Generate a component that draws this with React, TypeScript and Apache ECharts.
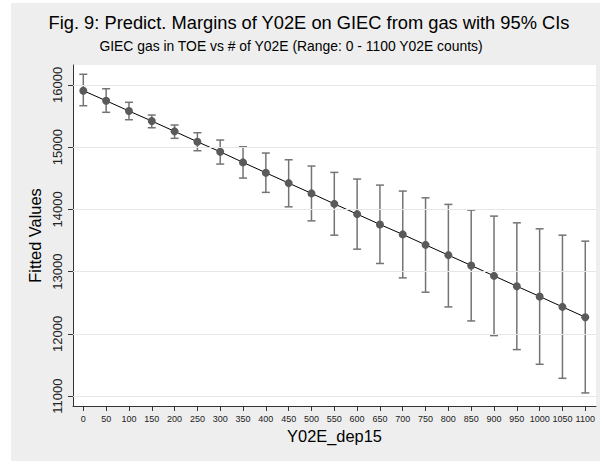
import React, { useEffect, useRef } from "react";
import * as echarts from "echarts";

const xValues = [0, 50, 100, 150, 200, 250, 300, 350, 400, 450, 500, 550, 600, 650, 700, 750, 800, 850, 900, 950, 1000, 1050, 1100];
const fitted = [15905, 15744, 15579, 15418, 15252, 15085, 14924, 14754, 14587, 14421, 14256, 14088, 13923, 13757, 13597, 13429, 13264, 13098, 12931, 12765, 12600, 12433, 12267];
const upperCI = [16169, 15937, 15719, 15514, 15354, 15230, 15113, 15005, 14904, 14796, 14695, 14593, 14486, 14389, 14293, 14185, 14079, 13987, 13891, 13783, 13687, 13585, 13489];
const lowerCI = [15664, 15558, 15439, 15310, 15140, 14941, 14727, 14502, 14272, 14040, 13815, 13585, 13360, 13130, 12899, 12669, 12432, 12207, 11972, 11747, 11511, 11286, 11051];
const yTicks = [11000, 12000, 13000, 14000, 15000, 16000];
const xTicks = xValues;

const titleText = "Fig. 9: Predict. Margins of Y02E on GIEC from gas with 95% CIs";
const subtitleText = "GIEC gas in TOE vs # of Y02E (Range: 0 - 1100 Y02E counts)";

const FONT = "'Liberation Sans', Arial, Helvetica, sans-serif";

export default function App() {
  const ref = useRef<HTMLDivElement>(null);
  useEffect(() => {
    if (!ref.current) return;
    const chart = echarts.init(ref.current, null, { renderer: "svg" });
    const errData = xValues.map((x, i) => [x, lowerCI[i], upperCI[i]]);
    chart.setOption({
      animation: false,
      backgroundColor: "#ffffff",
      textStyle: { fontFamily: FONT },
      graphic: [
        {
          type: "rect",
          shape: { x: 11, y: 3, width: 589, height: 458 },
          style: { fill: "#eeeeee" },
          z: -10,
          silent: true,
        },
        {
          type: "text",
          x: 309,
          y: 22,
          style: { text: titleText, fontSize: 18.3, fontFamily: FONT, fill: "#000", align: "center", verticalAlign: "middle" },
        },
        {
          type: "text",
          x: 291,
          y: 46,
          style: { text: subtitleText, fontSize: 13.9, fontFamily: FONT, fill: "#000", align: "center", verticalAlign: "middle" },
        },
      ],
      grid: {
        left: 73,
        top: 65,
        right: 4,
        bottom: 55,
        show: true,
        backgroundColor: "#ffffff",
        borderWidth: 0,
      },
      xAxis: {
        type: "value",
        min: -22.6,
        max: 1123.5,
        name: "Y02E_dep15",
        nameLocation: "middle",
        nameGap: 21,
        nameTextStyle: { fontSize: 16.4, color: "#000", fontFamily: FONT },
        axisLine: { show: true, onZero: false, lineStyle: { color: "#333", width: 1 } },
        axisTick: { show: true, length: 5, customValues: xTicks, lineStyle: { color: "#333" } },
        axisLabel: {
          customValues: xTicks,
          fontSize: 9,
          color: "#222",
          margin: 8,
          fontFamily: FONT,
          hideOverlap: false,
          showMinLabel: true,
          showMaxLabel: true,
          formatter: (v: number) => String(v),
        },
        splitLine: { show: false },
      },
      yAxis: {
        type: "value",
        min: 10841,
        max: 16318,
        name: "Fitted Values",
        nameLocation: "middle",
        nameRotate: 90,
        nameGap: 27,
        nameTextStyle: { fontSize: 16.4, color: "#000", fontFamily: FONT },
        axisLine: { show: true, onZero: false, lineStyle: { color: "#333", width: 1 } },
        axisTick: { show: true, length: 5, customValues: yTicks, lineStyle: { color: "#333" } },
        axisLabel: {
          customValues: yTicks,
          fontSize: 13,
          color: "#222",
          rotate: 90,
          margin: 9,
          fontFamily: FONT,
          formatter: (v: number) => String(v),
        },
        splitLine: { show: false },
      },
      series: [
        {
          type: "line",
          data: [],
          z: 1,
          silent: true,
          markLine: {
            silent: true,
            symbol: "none",
            label: { show: false },
            lineStyle: { color: "#e6e6e6", width: 1.2, type: "solid" },
            data: yTicks.map((v) => ({ yAxis: v })),
          },
        },
        {
          type: "custom",
          z: 2,
          silent: true,
          data: errData,
          renderItem: (params: any, api: any) => {
            const x = api.value(0);
            const lo = api.coord([x, api.value(1)]);
            const hi = api.coord([x, api.value(2)]);
            const cap = 4;
            const st = { stroke: "#747474", lineWidth: 1.5 };
            return {
              type: "group",
              children: [
                { type: "line", shape: { x1: hi[0], y1: hi[1], x2: lo[0], y2: lo[1] }, style: st },
                { type: "line", shape: { x1: hi[0] - cap, y1: hi[1], x2: hi[0] + cap, y2: hi[1] }, style: st },
                { type: "line", shape: { x1: lo[0] - cap, y1: lo[1], x2: lo[0] + cap, y2: lo[1] }, style: st },
              ],
            };
          },
        },
        {
          type: "line",
          z: 3,
          data: xValues.map((x, i) => [x, fitted[i]]),
          symbol: "circle",
          symbolSize: 8,
          showAllSymbol: true,
          itemStyle: { color: "#5a5a5a" },
          lineStyle: { color: "#000", width: 1 },
        },
      ],
    });
    return () => chart.dispose();
  }, []);
  return (
    <div style={{ position: "absolute", left: 0, top: 0, width: 600, height: 461 }}>
      <div ref={ref} style={{ width: 600, height: 461 }} />
    </div>
  );
}
